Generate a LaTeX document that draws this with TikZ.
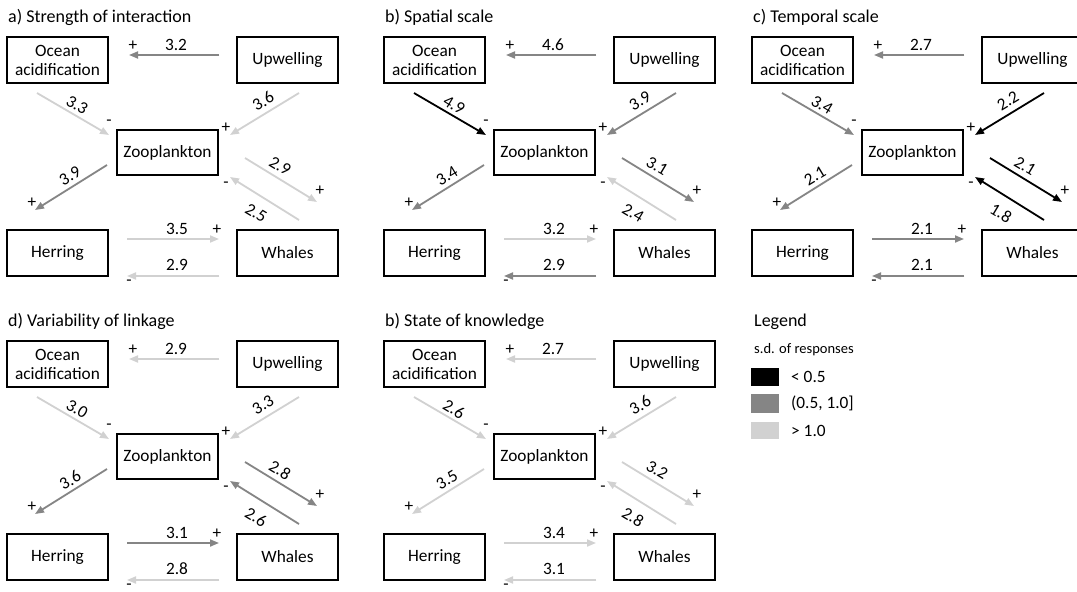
\documentclass[tikz,border=0pt]{standalone}
\usepackage{fontspec}
\setmainfont{Carlito}
\usetikzlibrary{arrows.meta,calc}
\definecolor{cdark}{gray}{0}
\definecolor{cmid}{gray}{0.52}
\definecolor{clight}{gray}{0.82}
\newcommand\fs{\fontsize{17.3}{19}\selectfont}
\newcommand\fst{\fontsize{18}{20}\selectfont}
\newcommand\fss{\fontsize{14.5}{16}\selectfont}
\tikzset{
  x=1pt, y=-1pt,
  box/.style={draw=black, line width=1.1pt, minimum width=101pt, minimum height=46pt, inner sep=0pt, align=center, font=\fs},
  arr/.style={line width=1.8pt, -{Triangle[length=9pt,width=7pt]}},
  lab/.style={inner sep=0pt, font=\fs},
  ttl/.style={inner sep=0pt, anchor=west, font=\fst},
}
\newcommand\panelbase[4]{%
\begin{scope}[shift={(#2,#3)}]
  \node[ttl] (#1-t) at (8,17) {#4};
  \node[box] (#1-oa) at (57.5,60) {Ocean\\acidification};
  \node[box] (#1-up) at (287.5,60) {Upwelling};
  \node[box, minimum height=45pt] (#1-zoo) at (167.5,152.5) {Zooplankton};
  \node[box] (#1-her) at (57.5,253) {Herring};
  \node[box] (#1-wha) at (287.5,253) {Whales};
  \coordinate (#1-1s) at (219,55);  \coordinate (#1-1e) at (129,55);  \coordinate (#1-1l) at (176,45);  \coordinate (#1-1p) at (133,46);
  \coordinate (#1-2s) at (37,93);   \coordinate (#1-2e) at (109,135); \coordinate (#1-2l) at (77,105);  \coordinate (#1-2p) at (109,123);
  \coordinate (#1-3s) at (299,93);  \coordinate (#1-3e) at (230,135); \coordinate (#1-3l) at (263,101); \coordinate (#1-3p) at (226,128);
  \coordinate (#1-4s) at (107,165); \coordinate (#1-4e) at (35,210);  \coordinate (#1-4l) at (70,176);  \coordinate (#1-4p) at (32,203);
  \coordinate (#1-5s) at (245,158); \coordinate (#1-5e) at (317,202); \coordinate (#1-5l) at (280,166); \coordinate (#1-5p) at (320,191);
  \coordinate (#1-6s) at (299,220); \coordinate (#1-6e) at (230,177); \coordinate (#1-6l) at (256,213); \coordinate (#1-6p) at (226,185);
  \coordinate (#1-7s) at (127,239); \coordinate (#1-7e) at (219,239); \coordinate (#1-7l) at (177,229); \coordinate (#1-7p) at (217,230);
  \coordinate (#1-8s) at (219,276); \coordinate (#1-8e) at (127,276); \coordinate (#1-8l) at (177,265); \coordinate (#1-8p) at (129,283);
\end{scope}}
\newcommand\edge[5]{%
  \draw[arr,draw=#2,fill=#2] (#1s) -- (#1e);
  \node[lab,rotate=#4] (#1v) at (#1l) {#3};
  \node[lab] (#1g) at (#1p) {#5};}
\newcommand\edUO[3]{\edge{#1-1}{#2}{#3}{0}{+}}
\newcommand\edOZ[3]{\edge{#1-2}{#2}{#3}{-31}{-}}
\newcommand\edUZ[3]{\edge{#1-3}{#2}{#3}{31}{+}}
\newcommand\edZH[3]{\edge{#1-4}{#2}{#3}{31}{+}}
\newcommand\edZW[3]{\edge{#1-5}{#2}{#3}{-31}{+}}
\newcommand\edWZ[3]{\edge{#1-6}{#2}{#3}{-31}{-}}
\newcommand\edHW[3]{\edge{#1-7}{#2}{#3}{0}{+}}
\newcommand\edWH[3]{\edge{#1-8}{#2}{#3}{0}{-}}
\begin{document}
\begin{tikzpicture}
  \useasboundingbox (0,0) rectangle (1077,592);
  \clip (0,0) rectangle (1077,592);
  \fill[white] (0,0) rectangle (1077,592);
  % panel a
  \panelbase{a}{0}{0}{a) Strength of interaction}
  \edUO{a}{cmid}{3.2}\edOZ{a}{clight}{3.3}\edUZ{a}{clight}{3.6}\edZH{a}{cmid}{3.9}
  \edZW{a}{clight}{2.9}\edWZ{a}{clight}{2.5}\edHW{a}{clight}{3.5}\edWH{a}{clight}{2.9}
  % panel b
  \panelbase{b}{377}{0}{b) Spatial scale}
  \edUO{b}{cmid}{4.6}\edOZ{b}{cdark}{4.9}\edUZ{b}{cmid}{3.9}\edZH{b}{cmid}{3.4}
  \edZW{b}{cmid}{3.1}\edWZ{b}{clight}{2.4}\edHW{b}{clight}{3.2}\edWH{b}{cmid}{2.9}
  % panel c
  \panelbase{c}{745}{0}{c) Temporal scale}
  \edUO{c}{cmid}{2.7}\edOZ{c}{cmid}{3.4}\edUZ{c}{cdark}{2.2}\edZH{c}{cmid}{2.1}
  \edZW{c}{cdark}{2.1}\edWZ{c}{cdark}{1.8}\edHW{c}{cmid}{2.1}\edWH{c}{cmid}{2.1}
  % panel d
  \panelbase{d}{0}{304}{d) Variability of linkage}
  \edUO{d}{clight}{2.9}\edOZ{d}{clight}{3.0}\edUZ{d}{clight}{3.3}\edZH{d}{cmid}{3.6}
  \edZW{d}{cmid}{2.8}\edWZ{d}{cmid}{2.6}\edHW{d}{cmid}{3.1}\edWH{d}{clight}{2.8}
  % panel e
  \panelbase{e}{377}{304}{b) State of knowledge}
  \edUO{e}{clight}{2.7}\edOZ{e}{clight}{2.6}\edUZ{e}{clight}{3.6}\edZH{e}{clight}{3.5}
  \edZW{e}{clight}{3.2}\edWZ{e}{clight}{2.8}\edHW{e}{clight}{3.4}\edWH{e}{clight}{3.1}
  % legend
  \node[ttl] (lg-t) at (754,322) {Legend};
  \node[ttl, font=\fss] (lg-s) at (754,350) {s.d. of responses};
  \fill[cdark] (751,368) rectangle (779,386);
  \fill[cmid] (751,394) rectangle (779,413);
  \fill[clight] (751,422) rectangle (779,439);
  \node[ttl, font=\fs] (lg-1) at (791,377) {< 0.5};
  \node[ttl, font=\fs] (lg-2) at (791,403.5) {(0.5, 1.0]};
  \node[ttl, font=\fs] (lg-3) at (791,430.5) {> 1.0};
\end{tikzpicture}
\end{document}
